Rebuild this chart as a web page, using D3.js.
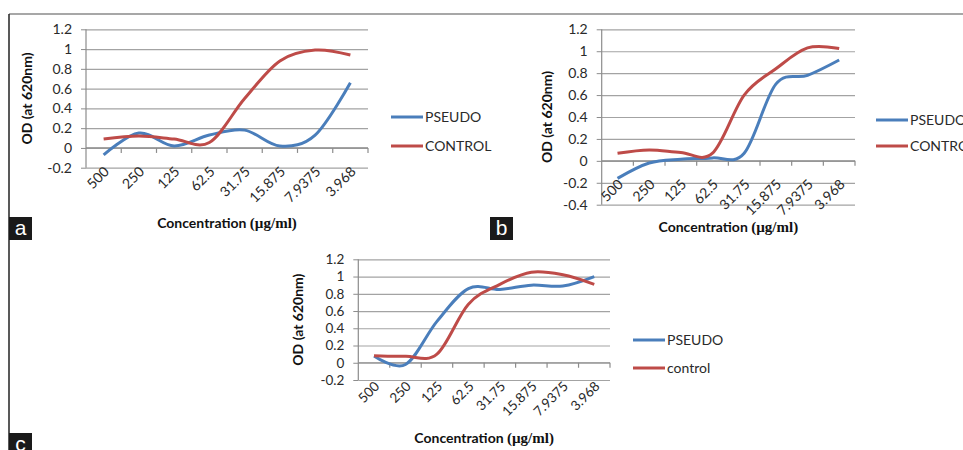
<!DOCTYPE html>
<html>
<head>
<meta charset="utf-8">
<script src="https://cdn.jsdelivr.net/npm/d3@7"></script>
<style>
  body { margin: 0; background: #fff; }
  svg { display: block; }
  .tick text { font-family: Lato, "Open Sans", sans-serif; }
</style>
</head>
<body>
<div id="vis"></div>
<script>
// concentration categories, same for all three panels
var categories = ['500', '250', '125', '62.5', '31.75', '15.875', '7.9375', '3.968'];

// panel a
var pseudoA  = [-0.07, 0.15, 0.02, 0.13, 0.18, 0.02, 0.13, 0.66];
var controlA = [0.09, 0.12, 0.09, 0.055, 0.5, 0.88, 0.99, 0.94];
// panel b
var pseudoB  = [-0.16, -0.02, 0.015, 0.027, 0.07, 0.7, 0.78, 0.92];
var controlB = [0.07, 0.1, 0.076, 0.07, 0.6, 0.84, 1.03, 1.025];
// panel c
var pseudoC  = [0.078, -0.02, 0.48, 0.86, 0.85, 0.9, 0.89, 1.0];
var controlC = [0.08, 0.075, 0.1, 0.68, 0.91, 1.05, 1.02, 0.91];

var yTicksA = [-0.2, 0, 0.2, 0.4, 0.6, 0.8, 1, 1.2];
var yTicksB = [-0.4, -0.2, 0, 0.2, 0.4, 0.6, 0.8, 1, 1.2];
var yTicksC = [-0.2, 0, 0.2, 0.4, 0.6, 0.8, 1, 1.2];

var width = 963;
var height = 450;
var blue = '#4a7ebb';
var red = '#be4b48';
var textColor = '#2a2a2a';
var font = 'Lato, "Open Sans", sans-serif';

var svg = d3.select('#vis')
  .append('svg')
  .attr('width', width)
  .attr('height', height);

// frame lines of the figure
svg.append('line')
  .attr('x1', 9).attr('x2', width)
  .attr('y1', 14).attr('y2', 14)
  .attr('stroke', '#8a8a8a').attr('stroke-width', 1.5);
svg.append('line')
  .attr('x1', 9).attr('x2', 9)
  .attr('y1', 14).attr('y2', height)
  .attr('stroke', '#222').attr('stroke-width', 1.5);

function fmt(d) {
  return String(+d.toFixed(1));
}

function drawPanel(p) {
  var g = svg.append('g');

  var x = d3.scaleBand()
    .domain(categories)
    .range([p.left, p.right]);

  var y = d3.scaleLinear()
    .domain(d3.extent(p.ticks))
    .range([p.bottom, p.top]);

  // horizontal gridlines
  g.append('g')
    .attr('transform', 'translate(' + p.left + ',0)')
    .call(d3.axisLeft(y)
      .tickValues(p.ticks)
      .tickSize(-(p.right - p.left))
      .tickFormat(''))
    .call(function(s) {
      s.select('.domain').remove();
      s.selectAll('line').attr('stroke', '#a3a3a3').attr('stroke-width', 1.2);
    });

  // y axis with labels
  g.append('g')
    .attr('transform', 'translate(' + p.left + ',0)')
    .call(d3.axisLeft(y)
      .tickValues(p.ticks)
      .tickSize(5)
      .tickPadding(9)
      .tickFormat(fmt))
    .call(function(s) {
      s.select('.domain').attr('stroke', '#8c8c8c').attr('stroke-width', 1.2)
        .attr('d', 'M0,' + p.bottom + 'V' + p.top);
      s.selectAll('line').attr('stroke', '#8c8c8c');
      s.selectAll('text').style('font-size', p.fs + 'px').attr('fill', textColor);
    });

  // x axis sits on the zero line, ticks between categories
  var y0 = y(0);
  var bounds = categories.map(function(c) { return x(c) + x.bandwidth(); });
  var xa = g.append('g');
  xa.append('line')
    .attr('x1', p.left).attr('x2', p.right)
    .attr('y1', y0).attr('y2', y0)
    .attr('stroke', '#8c8c8c').attr('stroke-width', 1.2);
  xa.selectAll('.xtick')
    .data(bounds)
    .enter().append('line')
    .attr('class', 'xtick')
    .attr('x1', function(d) { return d; })
    .attr('x2', function(d) { return d; })
    .attr('y1', y0).attr('y2', y0 + 5)
    .attr('stroke', '#8c8c8c').attr('stroke-width', 1.2);
  xa.selectAll('.xlabel')
    .data(categories)
    .enter().append('text')
    .attr('class', 'xlabel')
    .attr('transform', function(d) {
      return 'translate(' + (x(d) + x.bandwidth() / 2 + 3) + ',' + (y0 + 21) + ') rotate(-45)';
    })
    .attr('text-anchor', 'end')
    .attr('dy', '0.35em')
    .style('font-family', font)
    .style('font-size', p.fs + 'px')
    .attr('fill', textColor)
    .text(function(d) { return d; });

  // axis titles
  var xt = g.append('text')
    .attr('x', (p.left + p.right) / 2)
    .attr('y', p.xTitleY)
    .attr('dy', '0.35em')
    .attr('text-anchor', 'middle')
    .style('font-size', '14px')
    .style('font-weight', 'bold')
    .attr('fill', '#111');
  xt.append('tspan').style('font-family', font).text('Concentration ');
  xt.append('tspan').style('font-family', '"Liberation Serif", "DejaVu Serif", serif')
    .style('font-size', '15px').text('(µg/ml)');

  g.append('text')
    .attr('transform', 'translate(' + p.yTitleX + ',' + ((p.top + p.bottom) / 2) + ') rotate(-90)')
    .attr('dy', '0.35em')
    .attr('text-anchor', 'middle')
    .style('font-family', font)
    .style('font-size', '14px')
    .style('font-weight', 'bold')
    .attr('fill', '#111')
    .text('OD (at 620nm)');

  // the two series
  var line = d3.line()
    .curve(d3.curveCardinal.tension(0))
    .x(function(d, i) { return x(categories[i]) + x.bandwidth() / 2; })
    .y(function(d) { return y(d); });

  var series = [
    { name: 'PSEUDO', values: p.pseudo, color: blue },
    { name: p.controlName, values: p.control, color: red }
  ];

  g.selectAll('.series')
    .data(series)
    .enter().append('path')
    .attr('class', 'series')
    .attr('fill', 'none')
    .attr('stroke', function(d) { return d.color; })
    .attr('stroke-width', 3)
    .attr('d', function(d) { return line(d.values); });

  // legend
  var lg = g.selectAll('.legend')
    .data(series)
    .enter().append('g')
    .attr('class', 'legend')
    .attr('transform', function(d, i) {
      return 'translate(' + p.legX + ',' + p.legY[i] + ')';
    });
  lg.append('line')
    .attr('x1', 0).attr('x2', 32)
    .attr('stroke', function(d) { return d.color; })
    .attr('stroke-width', 3);
  lg.append('text')
    .attr('x', 34)
    .attr('dy', '0.35em')
    .style('font-family', font)
    .style('font-size', '14px')
    .attr('fill', textColor)
    .text(function(d) { return d.name; });

  // panel letter
  svg.append('rect')
    .attr('x', p.tagX).attr('y', p.tagY)
    .attr('width', 23).attr('height', 23)
    .attr('fill', '#1a1a1a');
  svg.append('text')
    .attr('x', p.tagX + 11.5).attr('y', p.tagY + 18)
    .attr('text-anchor', 'middle')
    .style('font-family', '"Liberation Sans", Arial, sans-serif')
    .style('font-size', '21px')
    .attr('fill', '#fff')
    .text(p.tag);
}

drawPanel({
  left: 86, right: 368, top: 29.3, bottom: 167.7, ticks: yTicksA, fs: 14,
  pseudo: pseudoA, control: controlA, controlName: 'CONTROL',
  xTitleY: 223, yTitleX: 27, legX: 391, legY: [117, 146],
  tag: 'a', tagX: 9, tagY: 217
});

drawPanel({
  left: 601.7, right: 855, top: 29.3, bottom: 204.7, ticks: yTicksB, fs: 14,
  pseudo: pseudoB, control: controlB, controlName: 'CONTROL',
  xTitleY: 226.7, yTitleX: 546.7, legX: 876, legY: [120, 146],
  tag: 'b', tagX: 490, tagY: 217
});

drawPanel({
  left: 358.3, right: 610, top: 259.3, bottom: 380, ticks: yTicksC, fs: 13.5,
  pseudo: pseudoC, control: controlC, controlName: 'control',
  xTitleY: 438.3, yTitleX: 298.3, legX: 633, legY: [340, 368],
  tag: 'c', tagX: 9, tagY: 433
});
</script>
</body>
</html>
